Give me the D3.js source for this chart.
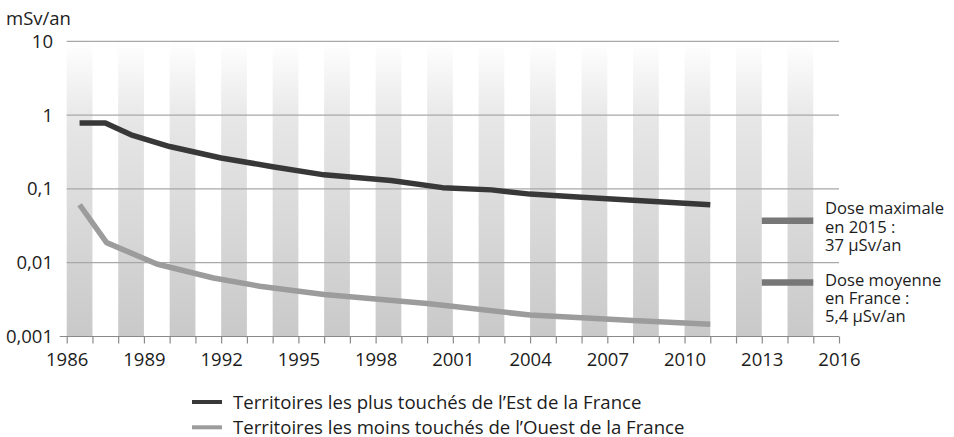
<!DOCTYPE html>
<html><head><meta charset="utf-8">
<script src="https://cdn.jsdelivr.net/npm/d3@7/dist/d3.min.js"></script>
<style>
body{margin:0;background:#fff}
svg text{font-family:"Open Sans",sans-serif;fill:#1c1c1c}
</style>
</head><body>
<svg id="chart" width="954" height="437"></svg>
<script>
// ---- data ----
const yearTicks = [1986,1987,1988,1989,1990,1991,1992,1993,1994,1995,1996,1997,1998,1999,2000,2001,2002,2003,2004,2005,2006,2007,2008,2009,2010,2011,2012,2013,2014,2015,2016];
const yearLabels = [1986,1989,1992,1995,1998,2001,2004,2007,2010,2013,2016];
const yTicks = [10,1,0.1,0.01,0.001];
const yTickLabels = ["10","1","0,1","0,01","0,001"];
const stripeStarts = [1986,1988,1990,1992,1994,1996,1998,2000,2002,2004,2006,2008,2010,2012,2014];
const estYears  = [1986.5,1987.5,1988.5,1990,1992,1994,1996,1998.6,2000.6,2002.5,2004,2006,2008,2011];
const estValues = [0.78,0.78,0.54,0.375,0.262,0.2,0.155,0.13,0.104,0.097,0.085,0.077,0.070,0.061];
const ouestYears  = [1986.5,1987.55,1989.5,1991.7,1993.5,1996,2000,2004,2008,2011];
const ouestValues = [0.061,0.0187,0.0096,0.0062,0.0048,0.0037,0.0028,0.00195,0.00165,0.00147];
const refValues = [0.037,0.0054];
const refYears = [2013,2015];
const refLabels = [["Dose maximale","en 2015 :","37 μSv/an"],["Dose moyenne","en France :","5,4 μSv/an"]];
const legendLabels = ["Territoires les plus touchés de l’Est de la France","Territoires les moins touchés de l’Ouest de la France"];
const seriesColors = ["#383838","#9c9c9c"];
const refColor = "#777777";

// ---- chart ----
const svg = d3.select("#chart");
const x = d3.scaleLinear().domain([1986,2016]).range([66.7,839]);
const y = d3.scaleLog().domain([0.001,10]).range([336.5,41.3]);

const defs = svg.append("defs");
const grad = defs.append("linearGradient").attr("id","stripeGrad")
  .attr("x1",0).attr("y1",0).attr("x2",0).attr("y2",1);
grad.append("stop").attr("offset","0%").attr("stop-color","#ffffff");
grad.append("stop").attr("offset","28%").attr("stop-color","#e6e6e6");
grad.append("stop").attr("offset","100%").attr("stop-color","#c9c9c9");

svg.append("g").selectAll("rect").data(stripeStarts).join("rect")
  .attr("x",d=>x(d)).attr("width",d=>x(d+1)-x(d))
  .attr("y",y(10)).attr("height",y(0.001)-y(10))
  .attr("fill","url(#stripeGrad)");

// gridlines
svg.append("g").selectAll("line").data(yTicks).join("line")
  .attr("x1",d=>d===0.001?x(1986)-7:x(1986)).attr("x2",x(2016))
  .attr("y1",d=>y(d)).attr("y2",d=>y(d))
  .attr("stroke",d=>d===0.001?"#8a8a8a":"#a8a8a8").attr("stroke-width",1.2);

// y labels
svg.append("g").selectAll("text").data(yTicks).join("text")
  .attr("x",53).attr("y",d=>y(d)).attr("dy","0.35em")
  .attr("text-anchor","end").attr("font-size",18.5)
  .text((d,i)=>yTickLabels[i]);

svg.append("text").attr("x",6).attr("y",25).attr("font-size",18.5).text("mSv/an");

// x axis
const xAxis = d3.axisBottom(x).tickValues(yearTicks).tickSize(7).tickPadding(9)
  .tickFormat(d=>yearLabels.includes(d)?String(d):"");
const gx = svg.append("g").attr("transform",`translate(0,${y(0.001)})`).call(xAxis);
gx.select(".domain").remove();
gx.selectAll(".tick line").attr("stroke","#8a8a8a").attr("stroke-width",1.2);
gx.selectAll(".tick text").attr("font-size",18.5).attr("font-family","Open Sans").attr("fill","#1c1c1c");

// lines
const line = d3.line().x(d=>x(d[0])).y(d=>y(d[1]));
svg.append("path").datum(ouestYears.map((yr,i)=>[yr,ouestValues[i]]))
  .attr("d",line).attr("fill","none").attr("stroke",seriesColors[1])
  .attr("stroke-width",5.5).attr("stroke-linejoin","round");
svg.append("path").datum(estYears.map((yr,i)=>[yr,estValues[i]]))
  .attr("d",line).attr("fill","none").attr("stroke",seriesColors[0])
  .attr("stroke-width",5.5).attr("stroke-linejoin","round");

// reference bars
refValues.forEach((v,i)=>{
  svg.append("line").attr("x1",x(refYears[0])).attr("x2",x(refYears[1]))
    .attr("y1",y(v)).attr("y2",y(v)).attr("stroke",refColor).attr("stroke-width",6.5);
});
const refTextY = [208.5,280];
refLabels.forEach((lines,i)=>{
  lines.forEach((s,j)=>svg.append("text").attr("x",825).attr("y",refTextY[i]+j*18.3)
    .attr("dy","0.35em").attr("font-size",16.6).text(s));
});

// legend
const lg = svg.append("g");
legendLabels.forEach((s,i)=>{
  const yy = 402 + i*25.3;
  lg.append("line").attr("x1",192).attr("x2",222).attr("y1",yy).attr("y2",yy)
    .attr("stroke",seriesColors[i]).attr("stroke-width",4);
  lg.append("text").attr("x",233).attr("y",yy).attr("dy","0.35em").attr("font-size",18.6).text(s);
});
</script>
</body></html>
